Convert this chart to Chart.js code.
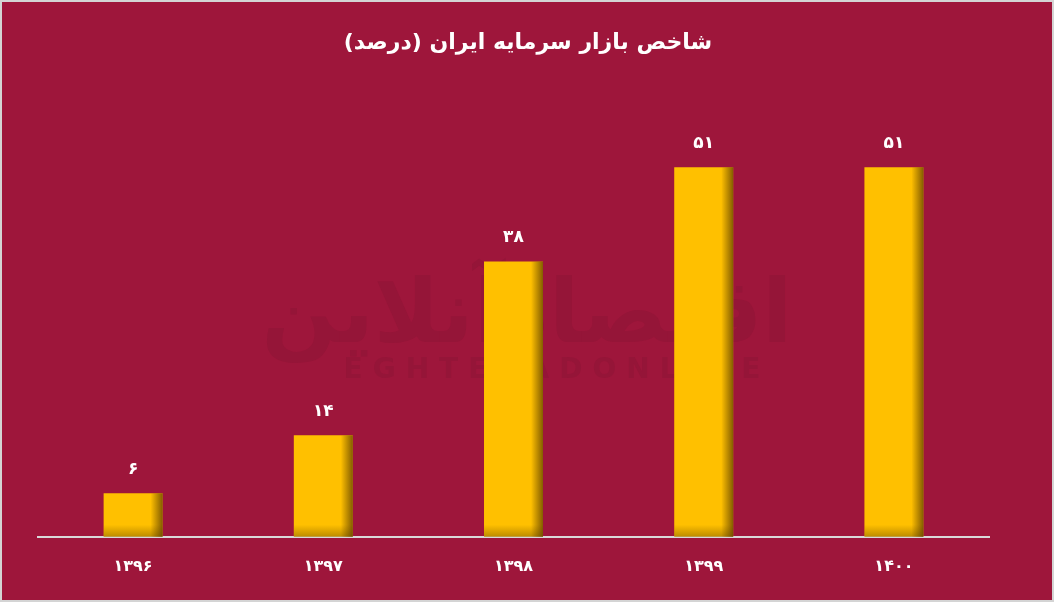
<!DOCTYPE html>
<html><head><meta charset="utf-8">
<script src="https://cdn.jsdelivr.net/npm/chart.js@4.4.0/dist/chart.umd.min.js"></script>
<style>
html,body{margin:0;padding:0;background:#d4d4d4;}
#wrap{position:absolute;left:2px;top:2px;width:1050px;height:598px;background:#9E163B;}
</style></head>
<body><div id="wrap"><canvas id="c" width="1050" height="598"></canvas></div>
<script>
const titleText = 'شاخص بازار سرمایه ایران (درصد)';
const categories = ['۱۳۹۶','۱۳۹۷','۱۳۹۸','۱۳۹۹','۱۴۰۰'];
const values = [6, 14, 38, 51, 51];

const faDigits = '۰۱۲۳۴۵۶۷۸۹';
const toFa = n => String(n).replace(/\d/g, d => faDigits[d]);
const FONT = '"DejaVu Sans", sans-serif';

const titleDraw = {
  id: 'titleDraw',
  afterDraw(chart) {
    const ctx = chart.ctx;
    ctx.save();
    ctx.fillStyle = '#ffffff';
    ctx.font = 'bold 22px ' + FONT;
    ctx.textAlign = 'center';
    ctx.textBaseline = 'middle';
    ctx.direction = 'rtl';
    ctx.fillText(titleText, 526, 41);
    ctx.restore();
  }
};

const watermark = {
  id: 'watermark',
  beforeDatasetsDraw(chart) {
    const ctx = chart.ctx;
    ctx.save();
    ctx.fillStyle = '#951538';
    ctx.textAlign = 'center';
    ctx.textBaseline = 'alphabetic';
    ctx.font = 'bold 88px ' + FONT;
    ctx.direction = 'rtl';
    ctx.fillText('اقتصادآنلاین', 525, 340);
    ctx.direction = 'ltr';
    ctx.font = 'bold 28px ' + FONT;
    if ('letterSpacing' in ctx) ctx.letterSpacing = '10px';
    ctx.fillText('EGHTESADONLINE', 555, 376);
    ctx.restore();
  }
};

const barShade = {
  id: 'barShade',
  afterDatasetsDraw(chart) {
    const ctx = chart.ctx;
    const meta = chart.getDatasetMeta(0);
    ctx.save();
    meta.data.forEach(bar => {
      const p = bar.getProps(['x','y','base','width'], true);
      const left = p.x - p.width/2, right = p.x + p.width/2;
      const sw = 12;
      let g = ctx.createLinearGradient(right - sw, 0, right, 0);
      g.addColorStop(0, 'rgba(90,60,0,0)');
      g.addColorStop(1, 'rgba(90,60,0,0.75)');
      ctx.fillStyle = g;
      ctx.fillRect(right - sw, p.y, sw, p.base - p.y);
      const sh = 12;
      g = ctx.createLinearGradient(0, p.base - sh, 0, p.base);
      g.addColorStop(0, 'rgba(90,60,0,0)');
      g.addColorStop(1, 'rgba(90,60,0,0.4)');
      ctx.fillStyle = g;
      ctx.fillRect(left, p.base - sh, p.width, sh);
    });
    ctx.restore();
  }
};

const valueLabels = {
  id: 'valueLabels',
  afterDatasetsDraw(chart) {
    const ctx = chart.ctx;
    const meta = chart.getDatasetMeta(0);
    ctx.save();
    ctx.fillStyle = '#ffffff';
    ctx.font = 'bold 17px ' + FONT;
    ctx.textAlign = 'center';
    ctx.textBaseline = 'middle';
    meta.data.forEach((bar, i) => {
      ctx.fillText(toFa(values[i]), bar.x, bar.y - 24);
    });
    ctx.restore();
  }
};

new Chart(document.getElementById('c'), {
  type: 'bar',
  data: {
    labels: categories,
    datasets: [{
      data: values,
      backgroundColor: '#FFC000',
      borderWidth: 0,
      categoryPercentage: 1,
      barPercentage: 0.31
    }]
  },
  options: {
    responsive: false,
    animation: false,
    devicePixelRatio: 1,
    layout: { padding: { left: 36, right: 63, top: 100, bottom: 4 } },
    plugins: {
      legend: { display: false },
      tooltip: { enabled: false },
      title: { display: false }
    },
    scales: {
      x: {
        grid: { display: false, drawTicks: false },
        border: { display: true, color: '#d9d9d9', width: 2 },
        ticks: { color: '#ffffff', font: { family: FONT, size: 16, weight: 'bold' }, padding: 20 }
      },
      y: {
        display: false,
        min: 0,
        max: 60
      }
    }
  },
  plugins: [watermark, barShade, valueLabels, titleDraw]
});
</script>
</body></html>
